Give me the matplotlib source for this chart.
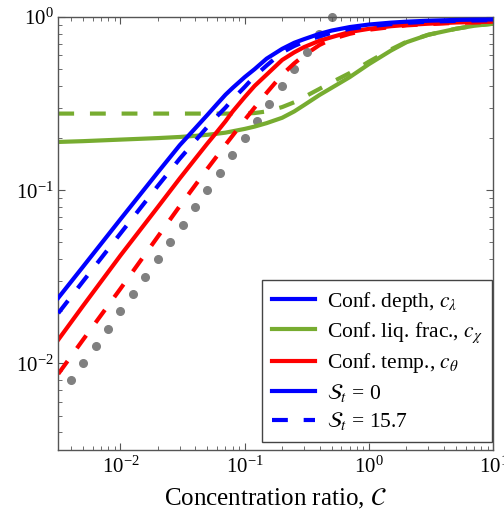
import numpy as np
import matplotlib
matplotlib.use("Agg")
import matplotlib.pyplot as plt
from matplotlib.lines import Line2D

plt.rcParams['font.family'] = ['Liberation Serif', 'DejaVu Serif']
plt.rcParams['mathtext.fontset'] = 'stix'

# concentration ratio sample points
conc = [0.00316, 0.005, 0.01, 0.02, 0.03, 0.04, 0.05, 0.06, 0.07, 0.08, 0.1, 0.12,
        0.15, 0.2, 0.25, 0.3, 0.4, 0.5, 0.7, 1.0, 1.5, 2.0, 3.0, 5.0, 7.0, 10.0]

# confined depth
depth_st0 = [0.0239, 0.0362, 0.068, 0.127, 0.182, 0.228, 0.272, 0.315, 0.356, 0.39,
             0.45, 0.50, 0.575, 0.655, 0.71, 0.745, 0.80, 0.835, 0.875, 0.905,
             0.928, 0.94, 0.952, 0.962, 0.966, 0.968]
depth_st157 = [0.0195, 0.0298, 0.0563, 0.106, 0.152, 0.193, 0.232, 0.268, 0.30, 0.335,
               0.395, 0.455, 0.525, 0.625, 0.68, 0.72, 0.775, 0.81, 0.855, 0.885,
               0.91, 0.925, 0.94, 0.95, 0.955, 0.96]

# confined liquid fraction
liq_st0 = [0.19, 0.192, 0.196, 0.20, 0.203, 0.206, 0.209, 0.212, 0.215, 0.219,
           0.226, 0.233, 0.244, 0.262, 0.285, 0.31, 0.355, 0.39, 0.45, 0.535,
           0.64, 0.715, 0.79, 0.855, 0.89, 0.915]
liq_st157 = [0.277, 0.277, 0.277, 0.277, 0.277, 0.277, 0.277, 0.277, 0.277, 0.277,
             0.277, 0.279, 0.285, 0.302, 0.322, 0.345, 0.385, 0.42, 0.475, 0.553,
             0.65, 0.72, 0.79, 0.855, 0.89, 0.915]

# confined temperature
temp_st0 = [0.0137, 0.0215, 0.042, 0.080, 0.117, 0.152, 0.186, 0.218, 0.25, 0.285,
            0.345, 0.40, 0.465, 0.565, 0.625, 0.67, 0.73, 0.765, 0.82, 0.855,
            0.885, 0.90, 0.915, 0.93, 0.935, 0.94]
temp_st157 = [0.0087, 0.0137, 0.027, 0.054, 0.081, 0.107, 0.133, 0.158, 0.183, 0.207,
              0.255, 0.30, 0.365, 0.465, 0.54, 0.60, 0.69, 0.745, 0.80, 0.845,
              0.875, 0.895, 0.91, 0.925, 0.93, 0.935]

# gray reference dots
dots_x = [0.00398, 0.00501, 0.00631, 0.00794, 0.0100, 0.0126, 0.0158, 0.0200,
          0.0251, 0.0316, 0.0398, 0.0501, 0.0631, 0.0794, 0.100, 0.126, 0.158,
          0.200, 0.251, 0.316, 0.398, 0.501]
dots_y = [0.0080, 0.0100, 0.0126, 0.0159, 0.0200, 0.0252, 0.0316, 0.0400,
          0.0502, 0.0632, 0.0796, 0.100, 0.126, 0.159, 0.200, 0.252, 0.316,
          0.400, 0.502, 0.632, 0.796, 1.0]

blue = '#0000ff'
green = '#77ac30'
red = '#ff0000'
lw = 3.0
dash = (3.8, 3.8)

fig = plt.figure(figsize=(5.04, 5.19), dpi=100)
ax = fig.add_axes([0.1157, 0.1329, 0.8631, 0.8343])

ax.plot(dots_x, dots_y, 'o', color='#808080', markersize=5.5, clip_on=False, zorder=1)

ax.plot(conc, depth_st0, color=blue, lw=lw, zorder=3)
ax.plot(conc, depth_st157, color=blue, lw=lw, dashes=dash, zorder=3)
ax.plot(conc, liq_st0, color=green, lw=lw, zorder=2)
ax.plot(conc, liq_st157, color=green, lw=lw, dashes=dash, zorder=2)
ax.plot(conc, temp_st0, color=red, lw=lw, zorder=2.5)
ax.plot(conc, temp_st157, color=red, lw=lw, dashes=dash, zorder=2.5)

ax.set_xscale('log')
ax.set_yscale('log')
ax.set_xlim(10 ** -2.5, 10)
ax.set_ylim(10 ** -2.5, 1)

ax.set_xlabel(r'Concentration ratio, $\mathcal{C}$', fontsize=18, labelpad=6)
ax.tick_params(which='both', direction='in', top=True, right=True,
               labelsize=15, color='#555555')
ax.tick_params(axis='x', which='major', pad=5)
ax.tick_params(which='major', length=5)
ax.tick_params(which='minor', length=3)
for s in ax.spines.values():
    s.set_color('#555555')
    s.set_linewidth(1.0)

handles = [
    Line2D([], [], color=blue, lw=lw),
    Line2D([], [], color=green, lw=lw),
    Line2D([], [], color=red, lw=lw),
    Line2D([], [], color=blue, lw=lw),
    Line2D([], [], color=blue, lw=lw, dashes=dash),
]
labels = [
    r'Conf. depth, $c_\lambda$',
    r'Conf. liq. frac., $c_\chi$',
    r'Conf. temp., $c_\theta$',
    r'$\mathcal{S}_t$ = 0',
    r'$\mathcal{S}_t$ = 15.7',
]
leg = ax.legend(handles, labels, loc='lower right', bbox_to_anchor=(0.998, 0.0185),
                fontsize=15.5, fancybox=False, framealpha=1, edgecolor='#444444',
                handlelength=2.0, handletextpad=0.55, labelspacing=0.3,
                borderpad=0.45, borderaxespad=0.0)
leg.get_frame().set_linewidth(1.0)

fig.savefig('out.png', dpi=100)
